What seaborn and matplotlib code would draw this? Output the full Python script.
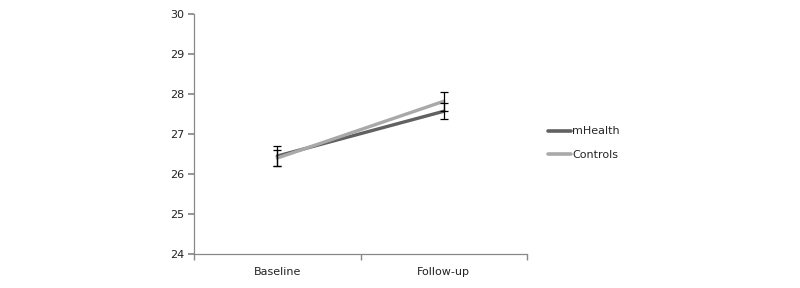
import matplotlib
matplotlib.use("Agg")
import matplotlib.pyplot as plt
import seaborn as sns
import pandas as pd
import numpy as np

categories = ["Baseline", "Follow-up"]
series_names = ["mHealth", "Controls"]
mhealth_values = [26.45, 27.57]
mhealth_err = [0.25, 0.20]
controls_values = [26.40, 27.82]
controls_err = [0.20, 0.24]
y_ticks = [24, 25, 26, 27, 28, 29, 30]

sns.set_theme(style="white")
plt.rcParams['font.family'] = ['DejaVu Sans']

rows = []
for name, vals, errs in [("mHealth", mhealth_values, mhealth_err),
                         ("Controls", controls_values, controls_err)]:
    for i, (c, v, e) in enumerate(zip(categories, vals, errs)):
        rows.append({"series": name, "cat": c, "pos": i, "value": v, "err": e})
df = pd.DataFrame(rows)

colors = {"mHealth": "#616161", "Controls": "#a9a9a9"}

fig = plt.figure(figsize=(8, 2.88), dpi=100)
ax = fig.add_axes([0.2425, 0.118, 0.4163, 0.833])

sns.lineplot(data=df, x="pos", y="value", hue="series", hue_order=series_names,
             palette=colors, linewidth=2.4, ax=ax, legend=False, errorbar=None)
for name in series_names:
    sub = df[df["series"] == name]
    ax.errorbar(sub["pos"], sub["value"], yerr=sub["err"], fmt="none",
                ecolor="black", elinewidth=0.9, capsize=2.6, capthick=0.9, zorder=5)

ax.set_xlim(-0.5, 1.5)
ax.set_ylim(24, 30)
ax.set_yticks(y_ticks)
ax.set_yticklabels([str(t) for t in y_ticks], fontsize=8, color="#222222")
ax.set_xticks([0, 1])
ax.set_xticklabels(categories, fontsize=8, color="#222222")
ax.tick_params(axis="x", length=0, pad=9)
ax.set_xticks([-0.5, 0.5, 1.5], minor=True)
ax.tick_params(axis="x", which="minor", length=4, color="#888888", direction="out", bottom=True)
ax.tick_params(axis="y", length=4, color="#888888", direction="out", left=True, pad=3)
ax.set_xlabel("")
ax.set_ylabel("")
for s in ["top", "right"]:
    ax.spines[s].set_visible(False)
for s in ["left", "bottom"]:
    ax.spines[s].set_color("#888888")
    ax.spines[s].set_linewidth(0.9)

from matplotlib.lines import Line2D
handles = [Line2D([0], [0], color=colors[n], linewidth=2.6) for n in series_names]
fig.legend(handles, series_names, loc="center left", bbox_to_anchor=(0.672, 0.502),
           frameon=False, fontsize=8, handlelength=2.1, handletextpad=0.1,
           labelspacing=1.25)

fig.savefig("out.png", dpi=100)
